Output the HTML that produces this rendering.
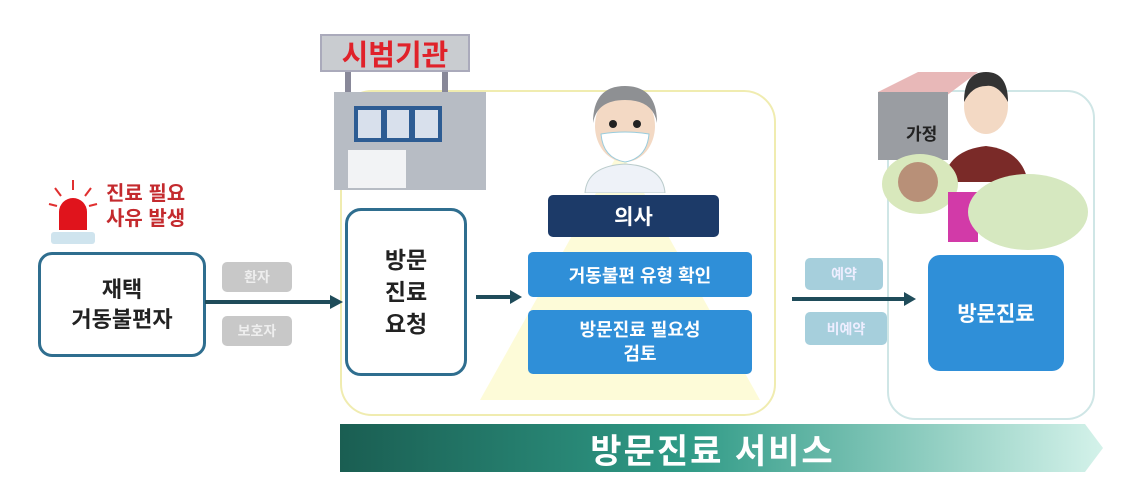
<!DOCTYPE html>
<html><head><meta charset="utf-8"><style>
body{margin:0;width:1127px;height:501px;background:#fff;position:relative;overflow:hidden;font-family:"Liberation Sans","Noto Sans CJK KR",sans-serif;font-weight:bold}
.a{position:absolute;box-sizing:border-box}
.c{display:flex;align-items:center;justify-content:center;text-align:center}
</style></head><body>
<!-- yellow panel -->
<div class="a" style="left:340px;top:90px;width:436px;height:326px;border:2px solid #f0ecb0;border-radius:32px"></div>
<svg class="a" style="left:480px;top:150px" width="280" height="260"><polygon points="140,0 0,250 280,250" fill="#fdfbd8"/></svg>
<!-- right panel -->
<div class="a" style="left:887px;top:90px;width:208px;height:330px;border:2px solid #cfe6e6;border-radius:28px"></div>
<!-- sign -->
<div class="a" style="left:345px;top:70px;width:6px;height:22px;background:#889"></div>
<div class="a" style="left:442px;top:70px;width:6px;height:22px;background:#889"></div>
<div class="a c" style="left:320px;top:34px;width:150px;height:38px;background:#c9ccd0;border:2px solid #aab;color:#e0222a;font-size:29px">시범기관</div>
<!-- building -->
<div class="a" style="left:334px;top:92px;width:152px;height:98px;background:#b7bcc4"></div>
<div class="a" style="left:354px;top:106px;width:88px;height:36px;background:#2d5c93;padding:4px;display:flex;gap:6px"><div style="flex:1;background:#d8e0ec"></div><div style="flex:1;background:#d8e0ec"></div><div style="flex:1;background:#d8e0ec"></div></div>
<div class="a" style="left:348px;top:150px;width:58px;height:38px;background:#f2f3f5"></div>
<!-- siren -->
<svg class="a" style="left:45px;top:178px" width="60" height="70"><g stroke="#e03030" stroke-width="2"><line x1="28" y1="2" x2="28" y2="12"/><line x1="10" y1="10" x2="16" y2="18"/><line x1="46" y1="10" x2="40" y2="18"/><line x1="4" y1="26" x2="12" y2="28"/><line x1="52" y1="26" x2="44" y2="28"/></g><path d="M14,52 V34 a14,14 0 0 1 28,0 V52Z" fill="#e0141c"/><rect x="6" y="54" width="44" height="12" rx="3" fill="#cfe4ee"/></svg>
<div class="a" style="left:106px;top:182px;color:#c42a2e;font-size:20px;line-height:25px">진료 필요<br>사유 발생</div>
<!-- left box -->
<div class="a c" style="left:38px;top:252px;width:168px;height:105px;border:3px solid #2f6e8f;border-radius:14px;font-size:22px;line-height:30px;color:#222">재택<br>거동불편자</div>
<div class="a c" style="left:222px;top:262px;width:70px;height:30px;background:#c8c8c8;border-radius:5px;color:#eee;font-size:14px">환자</div>
<div class="a c" style="left:222px;top:316px;width:70px;height:30px;background:#c8c8c8;border-radius:5px;color:#eee;font-size:14px">보호자</div>
<svg class="a" style="left:0;top:0" width="1127" height="501"><g stroke="#1f4c5a" stroke-width="4" fill="#1f4c5a"><line x1="205" y1="302" x2="332" y2="302"/><polygon points="343,302 330,295 330,309" stroke="none"/><line x1="476" y1="297" x2="512" y2="297"/><polygon points="522,297 510,290 510,304" stroke="none"/><line x1="792" y1="299" x2="905" y2="299"/><polygon points="916,299 904,292 904,306" stroke="none"/></g></svg>
<div class="a c" style="left:345px;top:208px;width:122px;height:168px;border:3px solid #2f6e8f;border-radius:16px;font-size:23px;line-height:32px;color:#222">방문<br>진료<br>요청</div>
<!-- doctor -->
<svg class="a" style="left:575px;top:78px" width="100" height="115"><path d="M10,115 Q12,88 50,86 Q88,88 90,115Z" fill="#eef2f8" stroke="#bcc"/><ellipse cx="50" cy="48" rx="30" ry="36" fill="#f3d9c4"/><path d="M18,45 Q18,8 50,8 Q82,8 82,45 Q78,22 50,22 Q22,22 18,45Z" fill="#8e9093"/><circle cx="38" cy="46" r="4" fill="#222"/><circle cx="62" cy="46" r="4" fill="#222"/><path d="M26,56 Q50,52 74,56 Q72,80 50,84 Q28,80 26,56Z" fill="#fff" stroke="#9cd"/></svg>
<div class="a c" style="left:548px;top:195px;width:171px;height:42px;background:#1c3a68;border-radius:5px;color:#fff;font-size:21px">의사</div>
<div class="a c" style="left:528px;top:252px;width:224px;height:45px;background:#2f8fd8;border-radius:5px;color:#fff;font-size:18px">거동불편 유형 확인</div>
<div class="a c" style="left:528px;top:310px;width:224px;height:64px;background:#2f8fd8;border-radius:5px;color:#fff;font-size:18px;line-height:24px">방문진료 필요성<br>검토</div>
<div class="a c" style="left:805px;top:258px;width:78px;height:32px;background:#a6cfdc;border-radius:5px;color:#eef;font-size:14px">예약</div>
<div class="a c" style="left:805px;top:312px;width:82px;height:33px;background:#a6cfdc;border-radius:5px;color:#eef;font-size:14px">비예약</div>
<!-- house & people -->
<svg class="a" style="left:868px;top:62px" width="240" height="190"><polygon points="10,30 50,10 110,10 70,40" fill="#e8b8b8"/><rect x="10" y="30" width="70" height="68" fill="#9a9da2"/><path d="M75,120 Q80,88 118,84 Q154,88 160,120Z" fill="#7a2a28"/><ellipse cx="118" cy="44" rx="22" ry="28" fill="#f3d9c4"/><path d="M96,40 Q96,10 118,10 Q140,10 140,40 Q130,22 118,24 Q104,24 96,40Z" fill="#333"/><ellipse cx="52" cy="122" rx="38" ry="30" fill="#d8e8bc"/><circle cx="50" cy="120" r="20" fill="#b89078"/><rect x="80" y="130" width="30" height="50" fill="#d23aa8"/><ellipse cx="160" cy="150" rx="60" ry="38" fill="#d6e8c0"/></svg>
<div class="a" style="left:906px;top:120px;font-size:17px;color:#222">가정</div>
<div class="a c" style="left:928px;top:255px;width:136px;height:116px;background:#2f8fd8;border-radius:12px;color:#fff;font-size:21px">방문진료</div>
<!-- bottom bar -->
<svg class="a" style="left:340px;top:424px" width="765" height="48"><defs><linearGradient id="g" x1="0" x2="1"><stop offset="0" stop-color="#1a5e52"/><stop offset="0.45" stop-color="#2f9a86"/><stop offset="1" stop-color="#d4f2ea"/></linearGradient></defs><polygon points="0,0 745,0 763,24 745,48 0,48" fill="url(#g)"/></svg>
<div class="a c" style="left:340px;top:424px;width:745px;height:48px;color:#fff;font-size:34px;letter-spacing:2px">방문진료 서비스</div>
</body></html>
